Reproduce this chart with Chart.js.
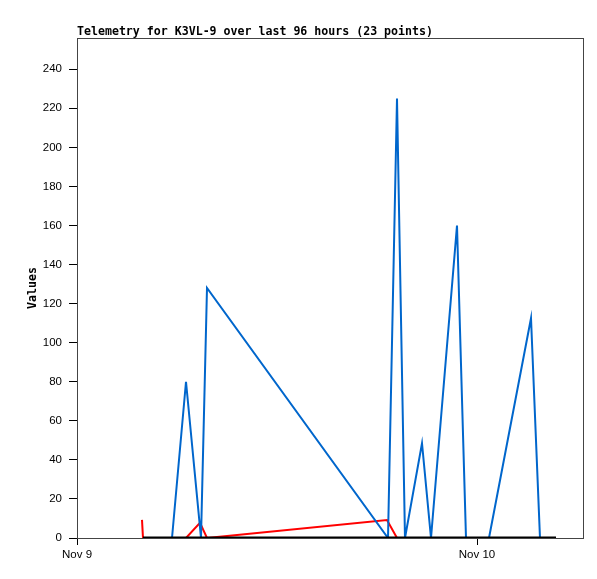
<!DOCTYPE html>
<html>
<head>
<meta charset="utf-8">
<script src="https://cdn.jsdelivr.net/npm/chart.js@4/dist/chart.umd.min.js"></script>
<style>
  body { margin: 0; background: #fff; }
</style>
</head>
<body>
<canvas id="telemetryChart" width="597" height="579"></canvas>
<script>
// Data (x = hours since Nov 9 00:00)
const titleText = "Telemetry for K3VL-9 over last 96 hours (23 points)";
const dayLabels = ["Nov 9", "Nov 10"];
const dayHours = [0, 24];

const blueHours = [5.70, 6.54, 7.44, 7.80, 18.66, 19.20, 19.68, 20.70, 21.24, 22.80, 23.34, 24.72, 27.24, 27.78];
const blueValues = [0, 80, 0, 128, 0, 225, 0, 48.5, 0, 160, 0, 0, 112.5, 0];

const redHours = [3.90, 3.96, 6.54, 7.38, 7.80, 18.60, 19.20];
const redValues = [9.3, 0, 0, 7.8, 0, 9.2, 0];

const blackHours = [3.96, 28.74];
const blackValues = [0, 0];

const yTicks = [0, 20, 40, 60, 80, 100, 120, 140, 160, 180, 200, 220, 240];

function toPoints(xs, ys) {
  return xs.map((x, i) => ({ x: x, y: ys[i] }));
}

// Title, y label and frame
const decorations = {
  id: 'decorations',
  beforeDatasetsDraw(chart) {
    const { ctx, chartArea } = chart;
    ctx.save();
    ctx.strokeStyle = '#444';
    ctx.lineWidth = 1;
    ctx.strokeRect(chartArea.left + 0.5, chartArea.top + 0.5, chartArea.right - chartArea.left, chartArea.bottom - chartArea.top);
    ctx.restore();
  },
  afterDraw(chart) {
    const { ctx, chartArea } = chart;
    ctx.save();
    ctx.fillStyle = '#000';
    ctx.font = 'bold 11.6px "DejaVu Sans Mono", monospace';
    ctx.textBaseline = 'alphabetic';
    ctx.textAlign = 'left';
    ctx.fillText(titleText, chartArea.left, 35);

    ctx.translate(36, (chartArea.top + chartArea.bottom) / 2);
    ctx.rotate(-Math.PI / 2);
    ctx.textAlign = 'center';
    ctx.fillText('Values', 0, 0);
    ctx.restore();
  }
};

new Chart(document.getElementById('telemetryChart').getContext('2d'), {
  type: 'line',
  data: {
    datasets: [
      { label: 'zero', data: toPoints(blackHours, blackValues), borderColor: '#000', borderWidth: 3, order: 0 },
      { label: 'blue', data: toPoints(blueHours, blueValues), borderColor: '#0066cc', borderWidth: 2, order: 1 },
      { label: 'red', data: toPoints(redHours, redValues), borderColor: '#ff0000', borderWidth: 2, order: 2 }
    ]
  },
  options: {
    responsive: false,
    animation: false,
    elements: {
      point: { radius: 0 },
      line: { tension: 0, fill: false, borderCapStyle: 'butt', borderJoinStyle: 'miter' }
    },
    layout: { padding: { top: 38, right: 14, left: 0, bottom: 0 } },
    plugins: {
      legend: { display: false },
      tooltip: { enabled: false },
      title: { display: false }
    },
    scales: {
      x: {
        type: 'linear',
        min: 0,
        max: 30.36,
        afterBuildTicks(scale) {
          scale.ticks = dayHours.map(v => ({ value: v }));
        },
        afterFit(scale) { scale.height = 41; },
        grid: { drawOnChartArea: false, tickLength: 7, color: '#000' },
        border: { color: '#000', width: 1 },
        ticks: {
          color: '#000',
          font: { family: '"Liberation Sans", Arial, sans-serif', size: 11.5 },
          padding: 3,
          maxRotation: 0,
          autoSkip: false,
          callback(value) {
            const i = dayHours.indexOf(value);
            return i >= 0 ? dayLabels[i] : '';
          }
        }
      },
      y: {
        type: 'linear',
        min: 0,
        max: 256,
        afterBuildTicks(scale) {
          scale.ticks = yTicks.map(v => ({ value: v }));
        },
        afterFit(scale) { scale.width = 77; },
        grid: { drawOnChartArea: false, tickLength: 8, color: '#000' },
        border: { color: '#000', width: 1 },
        ticks: {
          color: '#000',
          font: { family: '"Liberation Sans", Arial, sans-serif', size: 11.5 },
          padding: 7
        }
      }
    }
  },
  plugins: [decorations]
});
</script>
</body>
</html>
